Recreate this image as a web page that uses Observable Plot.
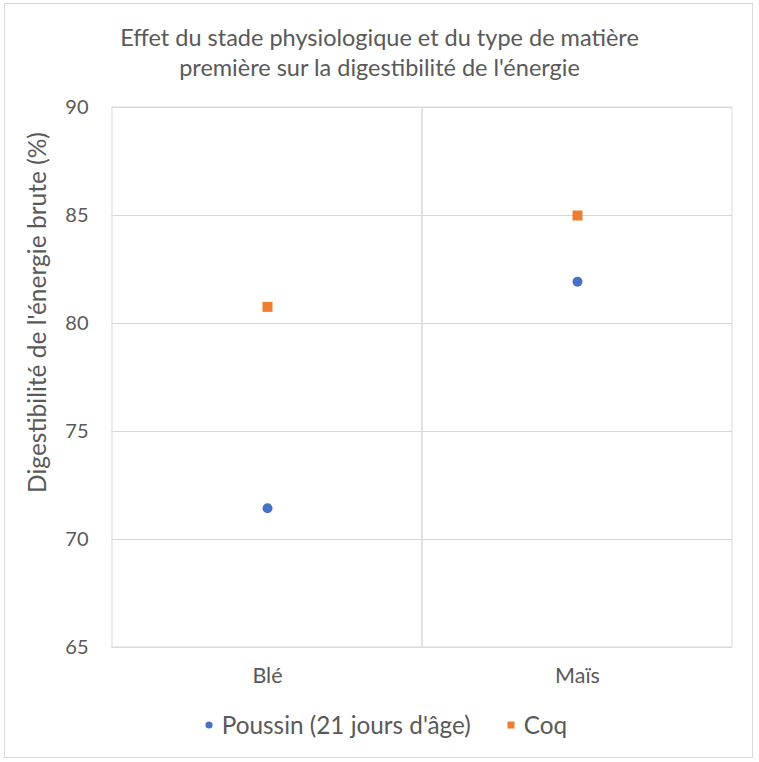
<!DOCTYPE html>
<html>
<head>
<meta charset="utf-8">
<script src="https://cdn.jsdelivr.net/npm/d3@7"></script>
<script src="https://cdn.jsdelivr.net/npm/@observablehq/plot@0.6"></script>
<style>
  body { margin: 0; background: #fff; }
  #wrap { position: relative; width: 759px; height: 762px; font-family: Lato, "Open Sans", sans-serif; color: #595959; }
  #border { position: absolute; left: 4px; top: 3px; width: 749px; height: 755px; border: 1px solid #d9d9d9; box-sizing: border-box; }
  #title { position: absolute; left: 0; width: 759px; top: 22px; text-align: center; font-size: 23.5px; line-height: 30px; }
  #legend { position: absolute; left: 0; width: 759px; top: 710px; display: flex; justify-content: center; align-items: center; font-size: 24.3px; line-height: 30px; padding-left: 13px; box-sizing: border-box; }
  .item { display: flex; align-items: center; }
  .item svg { margin-right: 9px; }
  #chart { position: absolute; left: 0; top: 0; }
</style>
</head>
<body>
<div id="wrap">
  <div id="border"></div>
  <div id="chart"></div>
  <div id="title">Effet du stade physiologique et du type de matière<br>première sur la digestibilité de l'énergie</div>
  <div id="legend"></div>
</div>
<script>
const categories = ["Blé", "Maïs"];
const poussin = [71.45, 81.93];
const coq = [80.77, 85.0];
const seriesNames = ["Poussin (21 jours d'âge)", "Coq"];
const seriesColors = ["#4472C4", "#ED7D31"];
const yTicks = [65, 70, 75, 80, 85, 90];
const yLabel = "Digestibilité de l'énergie brute (%)";

const data = categories.flatMap((c, i) => [
  {cat: c, serie: seriesNames[0], v: poussin[i]},
  {cat: c, serie: seriesNames[1], v: coq[i]}
]);

const plot = Plot.plot({
  width: 759,
  height: 762,
  marginLeft: 111,
  marginRight: 27,
  marginTop: 107,
  marginBottom: 115,
  style: {fontFamily: "Lato, 'Open Sans', sans-serif", fontSize: "20px", color: "#595959", background: "transparent"},
  x: {type: "band", domain: categories, padding: 0, label: null},
  y: {domain: [65, 90], label: null},
  marks: [
    Plot.gridY(yTicks, {stroke: "#d9d9d9", strokeOpacity: 1}),
    Plot.cell(categories, {x: d => d, fill: "none", stroke: "#d9d9d9"}),
    Plot.axisY(yTicks, {tickSize: 0, tickPadding: 23, fill: "#595959", label: null}),
    Plot.axisX({tickSize: 0, tickPadding: 20, fontSize: 21.5, fill: "#595959", label: null}),
    Plot.text([yLabel], {frameAnchor: "left", textAnchor: "middle", rotate: -90, dx: -73, dy: -65, fontSize: 24.5, fill: "#595959"}),
    Plot.dot(data.filter(d => d.serie === seriesNames[0]), {x: "cat", y: "v", r: 5, fill: seriesColors[0], symbol: "circle"}),
    Plot.dot(data.filter(d => d.serie === seriesNames[1]), {x: "cat", y: "v", r: 5.64, fill: seriesColors[1], symbol: "square"})
  ]
});
document.getElementById("chart").appendChild(plot);

const legend = document.getElementById("legend");
seriesNames.forEach((name, i) => {
  const item = document.createElement("div");
  item.className = "item";
  item.style.marginRight = i === 0 ? "36px" : "0";
  const mark = i === 0
    ? `<svg width="8" height="8"><circle cx="4" cy="4" r="3.6" fill="${seriesColors[i]}"/></svg>`
    : `<svg width="8" height="8"><rect x="0.5" y="0.5" width="7" height="7" fill="${seriesColors[i]}"/></svg>`;
  item.innerHTML = mark + `<span>${name}</span>`;
  legend.appendChild(item);
});
</script>
</body>
</html>
